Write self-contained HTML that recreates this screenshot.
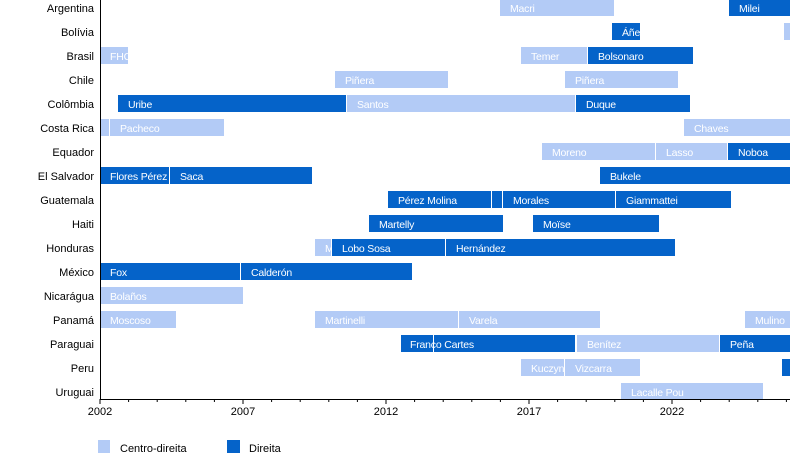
<!DOCTYPE html>
<html><head><meta charset="utf-8"><style>
body{margin:0;background:#fff;width:800px;height:458px;overflow:hidden}
svg text{font-family:"Liberation Sans",sans-serif}
</style></head><body>
<svg width="800" height="458" xmlns="http://www.w3.org/2000/svg">
<g id="bars"></g>
<g font-size="11" fill="#000" text-anchor="end" id="labels"></g>
<line x1="100.5" y1="0" x2="100.5" y2="399" stroke="#000"/>
<line x1="100" y1="399.5" x2="790" y2="399.5" stroke="#000"/>
<g id="ticks" stroke="#000"></g>
<g font-size="11" text-anchor="middle">
<text x="100" y="415">2002</text><text x="243" y="415">2007</text><text x="386" y="415">2012</text><text x="529" y="415">2017</text><text x="672" y="415">2022</text>
</g>
<rect x="98" y="440" width="12" height="13" fill="#b3cbf6"/><text x="120" y="452" font-size="11">Centro-direita</text>
<rect x="227" y="440" width="13" height="13" fill="#0563c9"/><text x="249" y="452" font-size="11">Direita</text>
</svg>
<script>
const L="#b3cbf6",D="#0563c9";
const rows=[
["Argentina",[[500,614,L,"Macri"],[729,790,D,"Milei"]]],
["Bolívia",[[612,640,D,"Áñez"],[784,790,L,""]]],
["Brasil",[[100,128,L,"FHC"],[521,587,L,"Temer"],[588,693,D,"Bolsonaro"]]],
["Chile",[[335,448,L,"Piñera"],[565,678,L,"Piñera"]]],
["Colômbia",[[118,346,D,"Uribe"],[347,575,L,"Santos"],[576,690,D,"Duque"]]],
["Costa Rica",[[100,109,L,""],[110,224,L,"Pacheco"],[684,790,L,"Chaves"]]],
["Equador",[[542,655,L,"Moreno"],[656,727,L,"Lasso"],[728,790,D,"Noboa"]]],
["El Salvador",[[100,169,D,"Flores Pérez"],[170,312,D,"Saca"],[600,790,D,"Bukele"]]],
["Guatemala",[[388,491,D,"Pérez Molina"],[492,502,D,""],[503,615,D,"Morales"],[616,731,D,"Giammattei"]]],
["Haiti",[[369,503,D,"Martelly"],[533,659,D,"Moïse"]]],
["Honduras",[[315,331,L,"M"],[332,445,D,"Lobo Sosa"],[446,675,D,"Hernández"]]],
["México",[[100,240,D,"Fox"],[241,412,D,"Calderón"]]],
["Nicarágua",[[100,243,L,"Bolaños"]]],
["Panamá",[[100,176,L,"Moscoso"],[315,458,L,"Martinelli"],[459,600,L,"Varela"],[745,790,L,"Mulino"]]],
["Paraguai",[[401,433,D,""],[434,575,D,""],[577,719,L,"Benítez"],[720,790,D,"Peña"]]],
["Peru",[[521,564,L,"Kuczynski"],[565,640,L,"Vizcarra"],[782,790,D,""]]],
["Uruguai",[[621,763,L,"Lacalle Pou"]]]];
const NS="http://www.w3.org/2000/svg";
const bg=document.getElementById("bars"),lg=document.getElementById("labels"),tg=document.getElementById("ticks");
function el(p,t,a,txt){const e=document.createElementNS(NS,t);for(const k in a)e.setAttribute(k,a[k]);if(txt!==undefined)e.textContent=txt;p.appendChild(e);return e;}
rows.forEach((r,i)=>{const c=8+24*i;
el(lg,"text",{x:94,y:c+4},r[0]);
r[1].forEach(b=>{el(bg,"rect",{x:b[0],y:c-9,width:b[1]-b[0],height:17,fill:b[2]});
if(b[3]){const g=el(bg,"svg",{x:b[0],y:c-9,width:b[1]-b[0],height:17});el(g,"text",{x:10,y:13,"font-size":10.5,fill:"#fff","letter-spacing":"-0.2"},b[3]);}});});
el(bg,"text",{x:410,y:348,"font-size":10.5,fill:"#fff","letter-spacing":"-0.2"},"Franco Cartes");
el(bg,"line",{x1:433.5,y1:335,x2:433.5,y2:352,stroke:"#fff"});
for(let y=0;y<=24;y++){const x=100+y*28.6;el(tg,"line",{x1:x,y1:399,x2:x,y2:y%5==0?404:402});}
</script>
</body></html>
